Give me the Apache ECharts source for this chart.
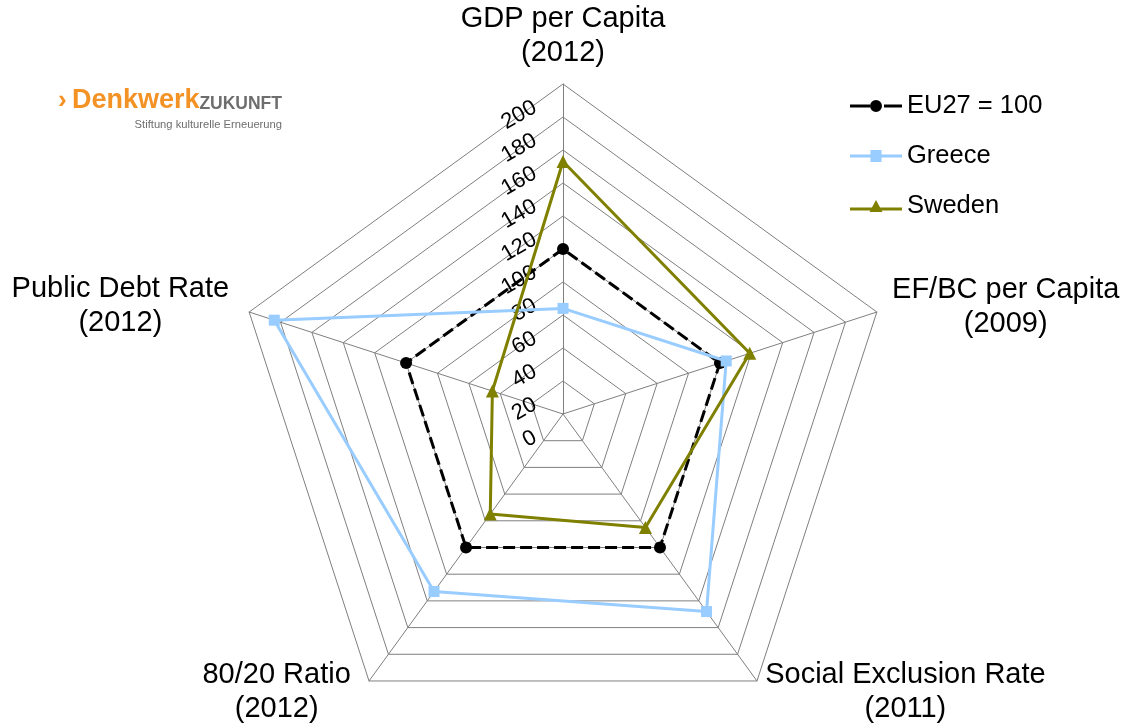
<!DOCTYPE html>
<html>
<head>
<meta charset="utf-8">
<script src="https://cdn.jsdelivr.net/npm/echarts@6/dist/echarts.min.js"></script>
<style>
  html, body { margin: 0; padding: 0; background: #ffffff; }
  #chart { width: 1122px; height: 724px; }
</style>
</head>
<body>
<div id="chart"></div>
<script>
// Indicators, listed clockwise starting at the top
const categories = [
  'GDP per Capita\n(2012)',
  'EF/BC per Capita\n(2009)',
  'Social Exclusion Rate\n(2011)',
  '80/20 Ratio\n(2012)',
  'Public Debt Rate\n(2012)'
];
const seriesNames = ['EU27 = 100', 'Greece', 'Sweden'];
const eu27   = [100, 100, 100, 100, 100];
const greece = [64, 104, 148, 133, 184];
const sweden = [153, 119, 85, 75, 45];
const axisMin = 0;
const axisMax = 200;
const tickStep = 20;

const FONT = "'Liberation Sans', Arial, Helvetica, sans-serif";
const GRID = '#7F7F7F';

// radar geometry
const CX = 563, CY = 414, R = 330;
// the scale numbers sit a little below their rings, left of the top spoke
const SCALE_DROP = 22;

// distance between each spoke end and its caption (same clockwise order)
const nameGaps = [14, 16, 14, 14, 21];
// caption text style key (the lower-left caption sits a little further out)
const nameStyleKeys = ['c', 'c', 'c', 'cr', 'c'];

// ECharts places indicators counter-clockwise, so feed them in reverse rotation
const order = [0, 4, 3, 2, 1];
const pick = arr => order.map(i => arr[i]);

const indicator = order.map(i => ({
  name: categories[i], min: axisMin, max: axisMax, nameGap: nameGaps[i]
}));

const styles = [
  { color: '#000000', symbol: 'circle', size: 12, dash: [12, 5] },
  { color: '#99CCFF', symbol: 'rect', size: 11, dash: 'solid' },
  { color: '#808000', symbol: 'triangle', size: 13, dash: 'solid' }
];
const values = [eu27, greece, sweden];

// legend keys: a short line with the series marker on it
const legendIcons = [
  'path://M0 4.5H20V7.5H0Z M20 6A6 6 0 1 1 32 6A6 6 0 1 1 20 6Z M34 4.5H52V7.5H34Z',
  'path://M0 4.5H52V7.5H0Z M20.5 0H31.5V12H20.5Z',
  'path://M0 7.5H52V10.5H0Z M19.5 12L26 0L32.5 12Z'
];

const W = 1122, H = 724;
const chart = echarts.init(document.getElementById('chart'), null, { renderer: 'canvas', width: W, height: H });

chart.setOption({
  backgroundColor: '#ffffff',
  animation: false,
  textStyle: { fontFamily: FONT },
  legend: {
    orient: 'vertical',
    left: 850,
    top: 93,
    padding: 0,
    itemWidth: 52,
    itemHeight: 12,
    itemGap: 24,
    textStyle: { fontSize: 25.5, color: '#000000', fontFamily: FONT },
    data: seriesNames.map((n, i) => ({ name: n, icon: legendIcons[i] }))
  },
  // value scale shown along the top spoke (labels only)
  grid: {
    left: CX, width: 1,
    top: CY - R + SCALE_DROP,
    height: R,
    outerBoundsMode: 'none',
    containLabel: false
  },
  xAxis: { type: 'value', show: false },
  yAxis: {
    type: 'value',
    min: axisMin,
    max: axisMax,
    interval: tickStep,
    axisLine: { show: false },
    axisTick: { show: false },
    splitLine: { show: false },
    axisLabel: {
      show: true,
      showMinLabel: true,
      showMaxLabel: true,
      rotate: 30,
      margin: 28,
      fontSize: 22,
      fontFamily: FONT,
      color: '#000000'
    }
  },
  radar: {
    center: [CX, CY],
    radius: R,
    startAngle: 90,
    shape: 'polygon',
    splitNumber: (axisMax - axisMin) / tickStep,
    axisName: {
      color: '#000000',
      fontSize: 29,
      fontFamily: FONT,
      formatter: (name) => {
        const key = nameStyleKeys[categories.indexOf(name)];
        return name.split('\n').map(s => '{' + key + '|' + s + '}').join('\n');
      },
      rich: {
        c:  { align: 'center', fontSize: 29, fontFamily: FONT, color: '#000000', lineHeight: 34 },
        cr: { align: 'center', fontSize: 29, fontFamily: FONT, color: '#000000', lineHeight: 34, padding: [0, 10, 0, 0] }
      }
    },
    axisLine: { show: true, lineStyle: { color: GRID, width: 1 } },
    splitLine: { show: true, lineStyle: { color: GRID, width: 1 } },
    splitArea: { show: false },
    axisTick: { show: false },
    axisLabel: { show: false },
    indicator: indicator
  },
  graphic: [
    { type: 'text', x: 58, y: 88, style: { text: '\u203A', font: 'bold 26px ' + FONT, fill: '#F39326' } },
    { type: 'text', x: 72, y: 87, style: { text: 'Denkwerk', font: 'bold 27px ' + FONT, fill: '#F39326' } },
    { type: 'text', x: 282, y: 95, style: { text: 'ZUKUNFT', font: 'bold 17.5px ' + FONT, fill: '#6E6E6E', align: 'right' } },
    { type: 'text', x: 282, y: 119, style: { text: 'Stiftung kulturelle Erneuerung', font: '11.2px ' + FONT, fill: '#6E6E6E', align: 'right' } }
  ],
  series: seriesNames.map((n, i) => ({
    type: 'radar',
    name: n,
    z: 2 + i,
    symbol: styles[i].symbol,
    symbolSize: styles[i].size,
    itemStyle: { color: styles[i].color },
    lineStyle: { color: styles[i].color, width: 3, type: styles[i].dash },
    data: [{ name: n, value: pick(values[i]) }]
  }))
});
</script>
</body>
</html>
